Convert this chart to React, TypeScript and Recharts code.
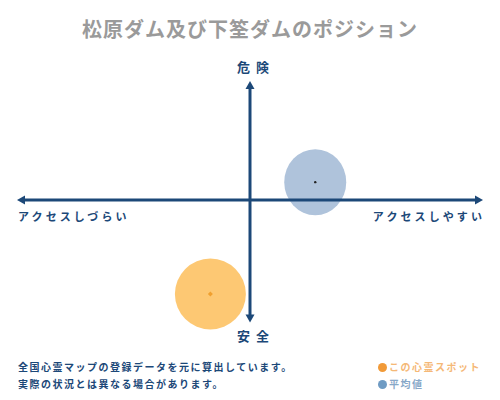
import React from "react";
import { ScatterChart, Scatter, XAxis, YAxis, ReferenceLine } from "recharts";

const spotData = [{ x: -17, y: -79 }];
const averageData = [{ x: 28, y: 15 }];
const verticalAxis = [{ x: 0, y: -103 }, { x: 0, y: 100 }];
const horizontalAxis = [{ x: -100, y: 0 }, { x: 100, y: 0 }];

const TITLE = "松原ダム及び下筌ダムのポジション";
const TOP_LABEL = "危険";
const BOTTOM_LABEL = "安全";
const LEFT_LABEL = "アクセスしづらい";
const RIGHT_LABEL = "アクセスしやすい";
const NOTE_LINES = ["全国心霊マップの登録データを元に算出しています。", "実際の状況とは異なる場合があります。"];
const LEGEND_SPOT = "この心霊スポット";
const LEGEND_AVG = "平均値";

const FONT = "'Noto Sans CJK JP', serif";
const NAVY = "#1c4878";

const ArrowLine = (props: any) => {
  const { x1, y1, x2, y2 } = props;
  if ([x1, y1, x2, y2].some((v) => typeof v !== "number" || isNaN(v))) return null;
  const dx = x2 - x1;
  const dy = y2 - y1;
  const len = Math.sqrt(dx * dx + dy * dy) || 1;
  const ux = dx / len;
  const uy = dy / len;
  const px = -uy;
  const py = ux;
  const L = 8;
  const W = 4.5;
  const head = (tx: number, ty: number, dirx: number, diry: number) => {
    const bx = tx - dirx * L;
    const by = ty - diry * L;
    return `${tx},${ty} ${bx + px * W},${by + py * W} ${bx - px * W},${by - py * W}`;
  };
  return (
    <g>
      <line
        x1={x1 + ux * (L - 1)}
        y1={y1 + uy * (L - 1)}
        x2={x2 - ux * (L - 1)}
        y2={y2 - uy * (L - 1)}
        stroke={NAVY}
        strokeWidth={3}
      />
      <polygon points={head(x1, y1, -ux, -uy)} fill={NAVY} />
      <polygon points={head(x2, y2, ux, uy)} fill={NAVY} />
    </g>
  );
};

const AvgShape = (props: any) => {
  const { cx, cy } = props;
  if (typeof cx !== "number") return null;
  return (
    <g>
      <ellipse cx={cx} cy={cy} rx={31} ry={33} fill="#afc3db" />
      <circle cx={cx} cy={cy} r={1.2} fill="#222" />
    </g>
  );
};

const SpotShape = (props: any) => {
  const { cx, cy } = props;
  if (typeof cx !== "number") return null;
  return (
    <g>
      <circle cx={cx} cy={cy} r={35.5} fill="#fdc873" />
      <polygon points={`${cx},${cy - 2.5} ${cx + 2.5},${cy} ${cx},${cy + 2.5} ${cx - 2.5},${cy}`} fill="#f0a030" />
    </g>
  );
};

const textBase: React.CSSProperties = {
  position: "absolute",
  fontFamily: FONT,
  whiteSpace: "nowrap",
  lineHeight: 1,
};

export default function App() {
  return (
    <div style={{ position: "absolute", left: 0, top: 0, width: 500, height: 400, background: "#fff" }}>
      <div
        style={{
          ...textBase,
          left: 0,
          width: 500,
          top: 19,
          textAlign: "center",
          fontSize: 20,
          fontWeight: 700,
          color: "#9a9a9a",
          letterSpacing: 1,
        }}
      >
        {TITLE}
      </div>
      <ScatterChart width={500} height={400} margin={{ top: 81, right: 17, bottom: 81, left: 17 }}>
        <XAxis type="number" dataKey="x" domain={[-100, 100]} hide />
        <YAxis type="number" dataKey="y" domain={[-100, 100]} hide />
        <Scatter data={averageData} shape={AvgShape} isAnimationActive={false} />
        <Scatter data={spotData} shape={SpotShape} isAnimationActive={false} />
        <ReferenceLine segment={horizontalAxis} ifOverflow="visible" shape={ArrowLine} zIndex={2500} />
        <ReferenceLine segment={verticalAxis} ifOverflow="visible" shape={ArrowLine} zIndex={2500} />
      </ScatterChart>
      <div
        style={{
          ...textBase,
          left: 200,
          width: 100,
          top: 60,
          textAlign: "center",
          fontSize: 13,
          fontWeight: 700,
          color: NAVY,
          letterSpacing: 6,
          paddingLeft: 6,
        }}
      >
        {TOP_LABEL}
      </div>
      <div
        style={{
          ...textBase,
          left: 200,
          width: 100,
          top: 329,
          textAlign: "center",
          fontSize: 13,
          fontWeight: 700,
          color: NAVY,
          letterSpacing: 6,
          paddingLeft: 6,
        }}
      >
        {BOTTOM_LABEL}
      </div>
      <div
        style={{ ...textBase, left: 18, top: 211, fontSize: 11, fontWeight: 700, color: NAVY, letterSpacing: 3.1 }}
      >
        {LEFT_LABEL}
      </div>
      <div
        style={{
          ...textBase,
          right: 15,
          top: 211,
          fontSize: 11,
          fontWeight: 700,
          color: NAVY,
          letterSpacing: 3.1,
        }}
      >
        {RIGHT_LABEL}
      </div>
      {NOTE_LINES.map((t, i) => (
        <div
          key={i}
          style={{
            ...textBase,
            left: 18,
            top: 362 + i * 17,
            fontSize: 10,
            fontWeight: 700,
            color: NAVY,
            letterSpacing: 1.5,
          }}
        >
          {t}
        </div>
      ))}
      <div style={{ ...textBase, left: 378, top: 362, fontSize: 10, fontWeight: 700, color: "#f5b877", letterSpacing: 1.5, display: "flex", alignItems: "center" }}>
        <span style={{ display: "inline-block", width: 9, height: 9, borderRadius: "50%", background: "#f19a38", marginRight: 2 }} />
        {LEGEND_SPOT}
      </div>
      <div style={{ ...textBase, left: 378, top: 379, fontSize: 10, fontWeight: 700, color: "#88a8c8", letterSpacing: 1.5, display: "flex", alignItems: "center" }}>
        <span style={{ display: "inline-block", width: 9, height: 9, borderRadius: "50%", background: "#6f9bc3", marginRight: 2 }} />
        {LEGEND_AVG}
      </div>
    </div>
  );
}
